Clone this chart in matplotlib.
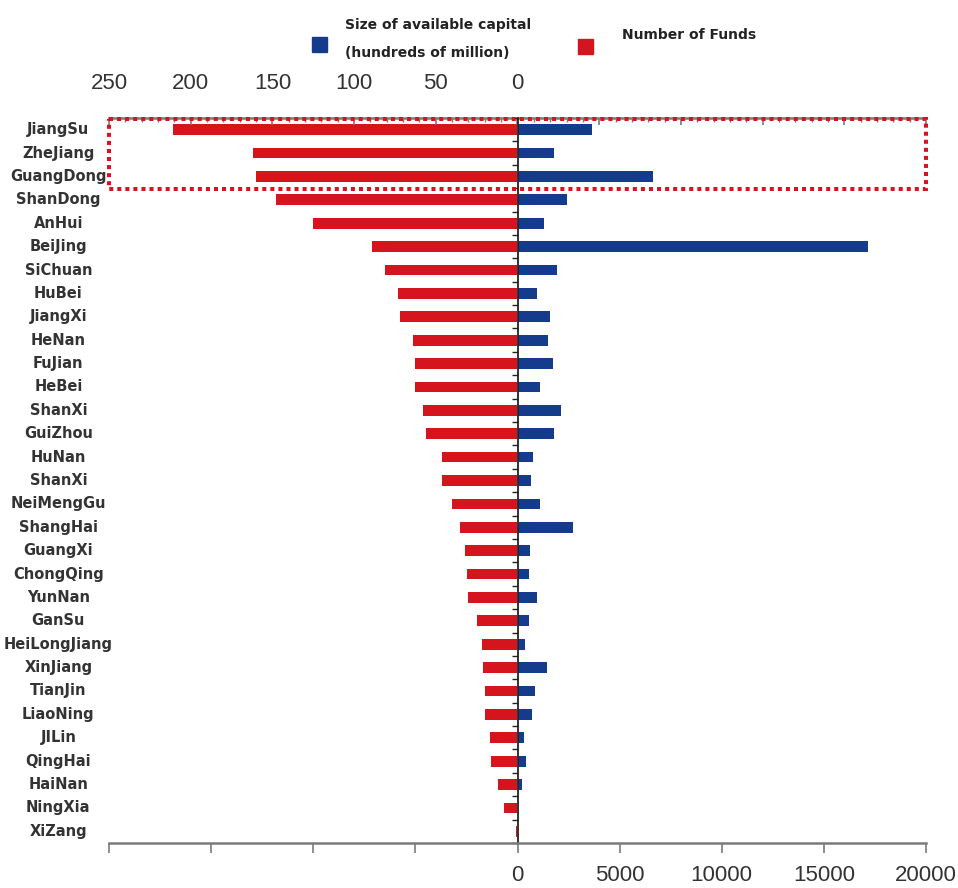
import matplotlib.pyplot as plt
import numpy as np
from matplotlib.patches import Rectangle
from matplotlib.ticker import FuncFormatter, MultipleLocator

provinces = ["JiangSu", "ZheJiang", "GuangDong", "ShanDong", "AnHui", "BeiJing",
             "SiChuan", "HuBei", "JiangXi", "HeNan", "FuJian", "HeBei", "ShanXi",
             "GuiZhou", "HuNan", "ShanXi", "NeiMengGu", "ShangHai", "GuangXi",
             "ChongQing", "YunNan", "GanSu", "HeiLongJiang", "XinJiang", "TianJin",
             "LiaoNing", "JILin", "QingHai", "HaiNan", "NingXia", "XiZang"]

# number of funds per province (top axis)
funds = [211, 162, 160, 148, 125, 89, 81, 73, 72, 64, 63, 63, 58, 56, 46, 46,
         40, 35, 32, 31, 30, 25, 22, 21, 20, 20, 17, 16, 12, 8, 1]

# available capital, hundreds of million (bottom axis)
capital = [3650, 1810, 6620, 2430, 1300, 17180, 1940, 960, 1580, 1480, 1730,
           1090, 2130, 1780, 770, 680, 1120, 2740, 620, 570, 960, 570, 360,
           1420, 880, 720, 310, 420, 200, 20, 30]

RED = "#d6141d"
BLUE = "#153b8c"
GREY = "#7a7a7a"
TEXT = "#333333"

plt.rcParams["font.family"] = ["Liberation Sans", "DejaVu Sans"]

fig = plt.figure(figsize=(9.58, 8.88), dpi=100)
ax = fig.add_axes([109 / 958, 1 - 843 / 888, 817 / 958, 725 / 888])
ax_f = ax.twiny()
ax.set_zorder(2)
ax_f.set_zorder(1)
ax.patch.set_visible(False)

y = np.arange(len(provinces))
ax_f.barh(y, funds, height=0.46, color=RED)
ax.barh(y, capital, height=0.46, color=BLUE)

# capital axis (bottom)
ax.set_xlim(-20000, 20000)
ax.set_xticks(range(-20000, 20001, 5000))
ax.xaxis.set_major_formatter(FuncFormatter(lambda v, p: f"{v:.0f}" if v >= 0 else ""))
ax.tick_params(axis="x", direction="out", length=7, width=1.2, color=GREY,
               labelsize=16, labelcolor=TEXT, pad=9)
ax.set_ylim(len(provinces) - 0.5, -0.47)
ax.set_yticks(np.arange(-0.5, len(provinces)))
ax.set_yticklabels([])
ax.tick_params(axis="y", direction="out", length=4, width=1, color="#222222")

for s in ["top", "right"]:
    ax.spines[s].set_visible(False)
ax.spines["left"].set_position(("data", 0))
ax.spines["left"].set_color("#222222")
ax.spines["left"].set_linewidth(1.3)
ax.spines["bottom"].set_color(GREY)
ax.spines["bottom"].set_linewidth(1.8)

# funds axis (top)
ax_f.set_xlim(250, -250)
ax_f.set_xticks(range(-250, 251, 50))
ax_f.xaxis.set_minor_locator(MultipleLocator(10))
ax_f.xaxis.set_major_formatter(FuncFormatter(lambda v, p: f"{v:.0f}" if v >= 0 else ""))
ax_f.tick_params(axis="x", which="major", direction="in", length=5, width=1.2,
                 color=GREY, labelsize=16, labelcolor=TEXT, pad=17)
ax_f.tick_params(axis="x", which="minor", direction="in", length=3, width=1, color=GREY)
for s in ["bottom", "left", "right"]:
    ax_f.spines[s].set_visible(False)
ax_f.spines["top"].set_color(GREY)
ax_f.spines["top"].set_linewidth(1.8)

# province names
for i, name in enumerate(provinces):
    ax.text(-0.062, i, name, transform=ax.get_yaxis_transform(), ha="center",
            va="center", fontsize=10.5, fontweight="bold", color=TEXT,
            family="DejaVu Sans")

# highlight the top three provinces
ax.add_patch(Rectangle((-20000, -0.47), 40000, 2.99, fill=False, edgecolor=RED,
                       lw=2.9, linestyle=(0, (1, 1)), clip_on=False, zorder=6))

# legend
fig.add_artist(Rectangle((312 / 958, 1 - 52 / 888), 15 / 958, 15 / 888,
                         transform=fig.transFigure, color=BLUE))
fig.add_artist(Rectangle((578 / 958, 1 - 54 / 888), 15 / 958, 15 / 888,
                         transform=fig.transFigure, color=RED))
legend_font = dict(va="center", fontsize=10, fontweight="bold", color="#222222",
                   family="DejaVu Sans")
fig.text(345 / 958, 1 - 25 / 888, "Size of available capital", **legend_font)
fig.text(345 / 958, 1 - 53 / 888, "(hundreds of million)", **legend_font)
fig.text(622 / 958, 1 - 35 / 888, "Number of Funds", **legend_font)

fig.savefig("out.png", dpi=100)
